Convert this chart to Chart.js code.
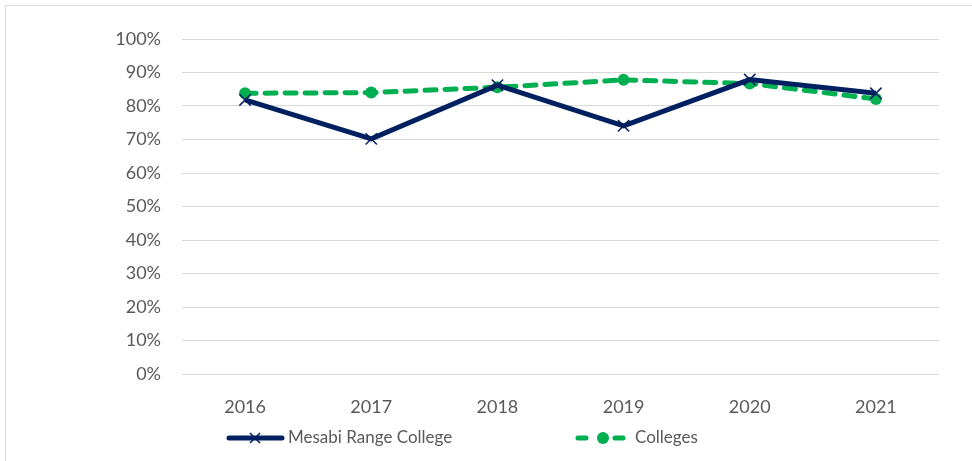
<!DOCTYPE html>
<html>
<head>
<meta charset="utf-8">
<script src="https://cdn.jsdelivr.net/npm/chart.js@4/dist/chart.umd.min.js"></script>
<style>
    html, body { margin: 0; padding: 0; background: #fff; }
    #wrap { position: relative; width: 972px; height: 461px; overflow: hidden; }
    #frame {
        position: absolute; left: 5px; top: 5px; right: -2px; bottom: -2px;
        border-left: 1px solid #d9d9d9; border-top: 1px solid #d9d9d9;
    }
    canvas { position: absolute; left: 0; top: 0; }
</style>
</head>
<body>
<div id="wrap">
    <div id="frame"></div>
    <canvas id="chart" width="972" height="461"></canvas>
</div>
<script>
// Data
const years = ['2016', '2017', '2018', '2019', '2020', '2021'];
const mesabi = [81.8, 70.2, 86.2, 74.1, 87.9, 83.8];
const colleges = [83.8, 84.0, 85.6, 87.8, 86.7, 82.1];
const yTicks = [0, 10, 20, 30, 40, 50, 60, 70, 80, 90, 100];

const NAVY = '#002060';
const GREEN = '#00b050';
const TEXT = '#595959';
const FONT = 'Lato, "Open Sans", sans-serif';

// Legend drawn by hand so it shows line + marker like the original
const legendPlugin = {
    id: 'officeLegend',
    afterDraw(chart) {
        const c = chart.ctx;
        const y = 438;
        c.save();
        // Mesabi Range College
        c.strokeStyle = NAVY;
        c.lineWidth = 5;
        c.lineCap = 'round';
        c.beginPath();
        c.moveTo(229, y);
        c.lineTo(282, y);
        c.stroke();
        c.lineWidth = 1.5;
        c.lineCap = 'butt';
        c.beginPath();
        c.moveTo(250, y - 5); c.lineTo(260, y + 5);
        c.moveTo(260, y - 5); c.lineTo(250, y + 5);
        c.stroke();
        // Colleges
        c.strokeStyle = GREEN;
        c.lineWidth = 5;
        c.lineCap = 'round';
        c.beginPath();
        c.moveTo(578, y); c.lineTo(586, y);
        c.moveTo(615, y); c.lineTo(623, y);
        c.stroke();
        c.fillStyle = GREEN;
        c.beginPath();
        c.arc(603, y, 6, 0, Math.PI * 2);
        c.fill();
        // labels
        c.fillStyle = TEXT;
        c.font = '17px ' + FONT;
        c.textBaseline = 'middle';
        c.textAlign = 'left';
        c.fillText('Mesabi Range College', 288, y);
        c.fillText('Colleges', 635, y);
        c.restore();
    }
};

new Chart(document.getElementById('chart'), {
    type: 'line',
    data: {
        labels: years,
        datasets: [{
            label: 'Mesabi Range College',
            data: mesabi,
            borderColor: NAVY,
            backgroundColor: NAVY,
            borderWidth: 5,
            tension: 0,
            pointStyle: 'crossRot',
            pointRadius: 8,
            pointBorderWidth: 1.5,
            pointBorderColor: NAVY
        }, {
            label: 'Colleges',
            data: colleges,
            borderColor: GREEN,
            backgroundColor: GREEN,
            borderWidth: 5,
            borderDash: [11, 9],
            borderCapStyle: 'round',
            tension: 0,
            pointStyle: 'circle',
            pointRadius: 6,
            pointBorderWidth: 0,
            pointBackgroundColor: GREEN
        }]
    },
    options: {
        responsive: false,
        animation: false,
        layout: { padding: { top: 39, right: 33, left: 0, bottom: 0 } },
        plugins: {
            legend: { display: false },
            tooltip: { enabled: false }
        },
        scales: {
            x: {
                offset: true,
                grid: { display: false },
                border: { display: false },
                ticks: { color: TEXT, font: { family: FONT, size: 18 }, padding: 14 },
                afterFit(scale) { scale.height = 87; }
            },
            y: {
                min: 0,
                max: 100,
                afterBuildTicks(scale) { scale.ticks = yTicks.map(v => ({ value: v })); },
                grid: { color: '#d9d9d9', lineWidth: 1, drawTicks: false },
                border: { display: false },
                ticks: {
                    color: TEXT,
                    font: { family: FONT, size: 18 },
                    padding: 21,
                    callback: v => v + '%'
                },
                afterFit(scale) { scale.width = 182; }
            }
        }
    },
    plugins: [legendPlugin]
});
</script>
</body>
</html>
